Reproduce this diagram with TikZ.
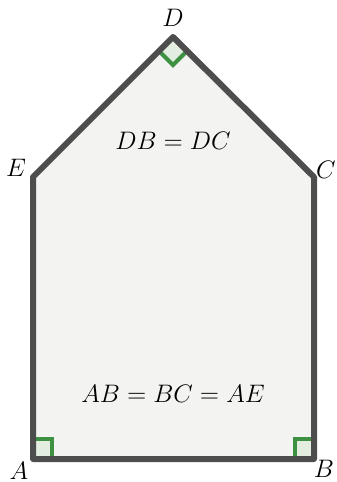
\documentclass[tikz,border=0pt]{standalone}
\usepackage{amsmath}
\usepackage{tikz}
\usetikzlibrary{calc}
\definecolor{edgecolor}{HTML}{4D4D4D}
\definecolor{facecolor}{HTML}{F3F3F1}
\definecolor{markgreen}{HTML}{3F9142}
\definecolor{markfill}{HTML}{E3EEE1}

\tikzset{
    edge/.style={draw=edgecolor, line width=0.12cm, line join=round, fill=facecolor},
    rightmark/.style={draw=markgreen, fill=markfill, line width=0.08cm},
    vlabel/.style={font=\Large, inner sep=1pt}
}

\begin{document}
\begin{tikzpicture}[x=0.02cm, y=-0.02cm]
    \useasboundingbox (0,0) rectangle (337,482);

    \coordinate (A) at (33,459);
    \coordinate (B) at (314,459);
    \coordinate (C) at (314,177);
    \coordinate (D) at (173,37);
    \coordinate (E) at (33,177);

    \fill[facecolor] (A) -- (B) -- (C) -- (D) -- (E) -- cycle;

    % right angles
    \draw[rightmark] (A) -- ++(0,-20) -- ++(19,0) -- ++(0,20);
    \draw[rightmark] (B) -- ++(0,-20) -- ++(-19,0) -- ++(0,20);
    \draw[rightmark] (D) -- ++(-14,14) -- ++(14,14) -- ++(14,-14);

    \draw[edge, fill=none] (A) -- (B) -- (C) -- (D) -- (E) -- cycle;

    \node[vlabel] (lA) at (19,471) {$A$};
    \node[vlabel] (lB) at (324,469) {$B$};
    \node[vlabel] (lC) at (326,170) {$C$};
    \node[vlabel] (lD) at (173,18) {$D$};
    \node[vlabel] (lE) at (16,168) {$E$};

    \node[vlabel] (top) at (173,141) {$DB = DC$};
    \node[vlabel] (bottom) at (173,394) {$AB = BC = AE$};
\end{tikzpicture}
\end{document}
